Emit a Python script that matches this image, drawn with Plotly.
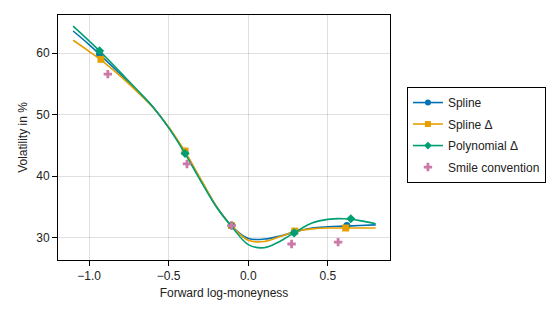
import plotly.graph_objects as go

# Curve grid (forward log-moneyness)
curve_x = [-1.1, -1.0, -0.9, -0.8, -0.7, -0.6, -0.5, -0.4, -0.3, -0.2, -0.1,
           0.0, 0.1, 0.2, 0.3, 0.4, 0.5, 0.6, 0.7, 0.8]
spline_curve = [63.6, 61.4, 59.0, 56.5, 53.9, 51.3, 47.9, 44.0, 39.5, 35.1, 31.8,
                29.9, 29.8, 30.3, 31.0, 31.6, 31.8, 31.9, 32.0, 32.1]
spline_delta_curve = [62.1, 60.3, 58.4, 56.2, 53.8, 51.2, 48.0, 44.1, 39.6, 35.1, 31.8,
                      29.6, 29.4, 30.2, 31.1, 31.45, 31.6, 31.6, 31.6, 31.6]
poly_delta_curve = [64.4, 62.0, 59.5, 56.8, 54.1, 51.3, 47.9, 43.8, 39.3, 35.0, 31.7,
                    28.9, 28.4, 29.45, 31.0, 32.4, 33.0, 33.1, 32.8, 32.3]

# Calibration points
spline_x = [-0.934, -0.397, -0.105, 0.288, 0.619]
spline_y = [59.8, 43.9, 32.0, 30.9, 32.0]
spline_delta_x = [-0.925, -0.397, -0.105, 0.292, 0.612]
spline_delta_y = [59.0, 44.1, 32.0, 31.1, 31.6]
poly_delta_x = [-0.934, -0.397, -0.105, 0.288, 0.644]
poly_delta_y = [60.4, 43.7, 32.0, 30.8, 33.1]
smile_x = [-0.882, -0.385, -0.105, 0.272, 0.564]
smile_y = [56.6, 42.0, 32.0, 29.0, 29.3]

BLUE, ORANGE, GREEN, PINK = "#0072B2", "#E69F00", "#009E73", "#CC79A7"

fig = go.Figure()
series = [
    ("Spline", spline_curve, spline_x, spline_y, BLUE, "circle"),
    ("Spline Δ", spline_delta_curve, spline_delta_x, spline_delta_y, ORANGE, "square"),
    ("Polynomial Δ", poly_delta_curve, poly_delta_x, poly_delta_y, GREEN, "diamond"),
]
for name, cy, mx, my, col, sym in series:
    fig.add_trace(go.Scatter(x=curve_x, y=cy, mode="lines", line=dict(color=col, width=1.6, shape="spline", smoothing=1.0),
                             legendgroup=name, showlegend=False, hoverinfo="skip"))
    fig.add_trace(go.Scatter(x=mx, y=my, mode="markers", marker=dict(color=col, symbol=sym, size=7),
                             legendgroup=name, showlegend=False))
    fig.add_trace(go.Scatter(x=[None], y=[None], mode="lines+markers", name=name,
                             line=dict(color=col, width=1.6), marker=dict(color=col, symbol=sym, size=6),
                             legendgroup=name))

fig.add_trace(go.Scatter(x=smile_x, y=smile_y, mode="markers", name="Smile convention",
                         marker=dict(color=PINK, symbol="cross", size=7), legendgroup="smile"))

axis_common = dict(showline=True, linecolor="black", linewidth=1, mirror=True,
                   showgrid=True, gridcolor="rgba(0,0,0,0.12)", gridwidth=1,
                   ticks="outside", ticklen=5, tickcolor="black", zeroline=False,
                   automargin=False, tickfont=dict(size=12, color="#222"))

fig.update_layout(
    width=547, height=307,
    margin=dict(l=50, r=165, t=7, b=55),
    paper_bgcolor="white", plot_bgcolor="white",
    font=dict(family="Liberation Sans, Arial, sans-serif", size=12, color="#222"),
    xaxis=dict(range=[-1.195, 0.89], tickvals=[-1.0, -0.5, 0.0, 0.5], ticktext=["−1.0", "−0.5", "0.0", "0.5"],
               title=dict(text="Forward log-moneyness", font=dict(size=12), standoff=6), **axis_common),
    yaxis=dict(range=[26.4, 66.2], tickvals=[30, 40, 50, 60],
               title=dict(text="Volatility in %", font=dict(size=12), standoff=6), **axis_common),
    legend=dict(x=1.051, y=0.51, xanchor="left", yanchor="middle", bordercolor="black", borderwidth=1,
                bgcolor="white", font=dict(size=12), tracegroupgap=2.5, itemwidth=30),
    showlegend=True,
)

fig.write_html("out.html")
